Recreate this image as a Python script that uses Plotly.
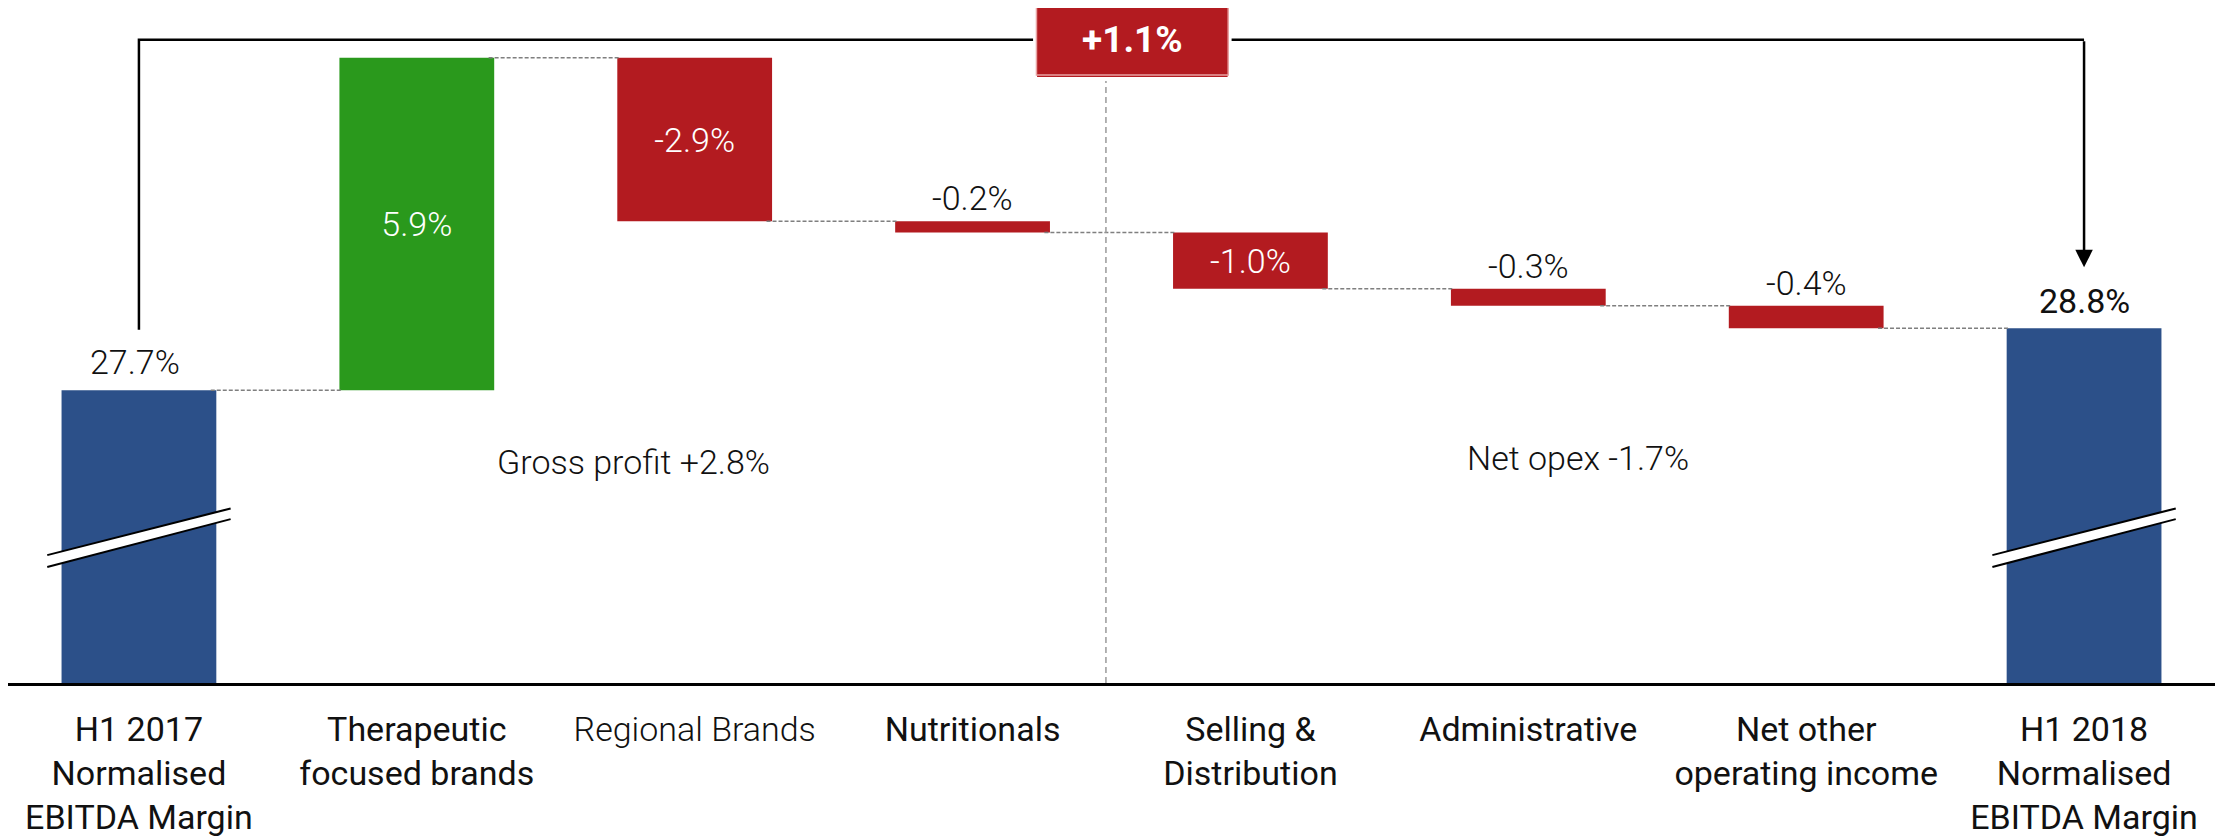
import numpy as np
import plotly.graph_objects as go

# ---- data ----
categories = [
    "H1 2017<br>Normalised<br>EBITDA Margin",
    "Therapeutic<br>focused brands",
    "<span style=\"font-weight:300\">Regional Brands</span>",
    "Nutritionals",
    "Selling &<br>Distribution",
    "Administrative",
    "Net other<br>operating income",
    "H1 2018<br>Normalised<br>EBITDA Margin",
]
start_margin = 27.7
end_margin = 28.8
changes = [5.9, -2.9, -0.2, -1.0, -0.3, -0.4]
change_labels = ["5.9%", "-2.9%", "-0.2%", "-1.0%", "-0.3%", "-0.4%"]
total_labels = ["27.7%", "28.8%"]
total_change_label = "+1.1%"
group_labels = ["Gross profit +2.8%", "Net opex -1.7%"]

BLUE = "#2C5089"
GREEN = "#2A991C"
RED = "#B31B20"
FONT = "Roboto, Arial, sans-serif"
# the page body adds an 8px offset, so the figure is 8px smaller and the
# ranges start a little further in
Y_MIN, Y_MAX = 22.5, 34.485
X_MIN, X_MAX = -0.4712, 7.5
BAR_W = 0.557

# running levels
levels = start_margin + np.concatenate([[0], np.cumsum(changes)])
step_base = levels[:-1]
n = len(categories)
xs = list(range(n))

fig = go.Figure()

# connectors between bars
cx, cy = [], []
for i, lv in enumerate(levels):
    cx += [i + BAR_W / 2 - 0.02, i + 1 - BAR_W / 2 + 0.01, None]
    cy += [lv, lv, None]
fig.add_trace(go.Scatter(x=cx, y=cy, mode="lines", hoverinfo="skip",
                         line=dict(color="#7F7F7F", width=1.5, dash="4px,2px")))

# totals
fig.add_trace(go.Bar(x=[0, n - 1], y=[start_margin, end_margin], base=[0, 0],
                     width=BAR_W, marker=dict(color=BLUE, line=dict(width=0))))

# step bars
inside = [t if abs(c) >= 0.5 else "" for c, t in zip(changes, change_labels)]
fig.add_trace(go.Bar(
    x=xs[1:-1], y=changes, base=step_base, width=BAR_W,
    marker=dict(color=[GREEN if c > 0 else RED for c in changes], line=dict(width=0)),
    text=inside, textposition="inside", insidetextanchor="middle",
    constraintext="none",
    textfont=dict(family=FONT, size=34, color="white", weight=300),
))

# labels above small steps and totals
for i, (c, t) in enumerate(zip(changes, change_labels), start=1):
    if abs(c) < 0.5:
        fig.add_annotation(x=i, y=max(step_base[i - 1], step_base[i - 1] + c),
                           text=t, showarrow=False, yanchor="bottom", yshift=1,
                           font=dict(family=FONT, size=34, color="#111", weight=300))
fig.add_annotation(x=0, y=start_margin, text=total_labels[0], showarrow=False,
                   yanchor="bottom", yshift=6, xshift=-4,
                   font=dict(family=FONT, size=34, color="#111", weight=300))
fig.add_annotation(x=n - 1, y=end_margin, text=total_labels[1], showarrow=False,
                   yanchor="bottom", yshift=5,
                   font=dict(family=FONT, size=34, color="#111", weight=400))

# group captions
fig.add_annotation(x=1.78, y=26.42, text=group_labels[0], showarrow=False,
                   font=dict(family=FONT, size=34, color="#111", weight=300))
fig.add_annotation(x=5.18, y=26.49, text=group_labels[1], showarrow=False,
                   font=dict(family=FONT, size=34, color="#111", weight=300))

# axis-break markers on total bars
for xc in [0, n - 1]:
    x0, x1 = xc - 0.33, xc + 0.33
    fig.add_shape(type="path", layer="above", line=dict(width=0), fillcolor="white",
                  path=f"M {x0},24.56 L {x0},24.77 L {x1},25.60 L {x1},25.41 Z")
    for ya, yb in [(24.77, 25.60), (24.56, 25.41)]:
        fig.add_shape(type="line", layer="above", x0=x0, y0=ya, x1=x1, y1=yb,
                      line=dict(color="black", width=2))

# dashed divider between gross profit and opex
fig.add_shape(type="line", layer="above", x0=3.48, x1=3.48, y0=Y_MIN, y1=33.2,
              line=dict(color="#9A9A9A", width=1.5, dash="6px,4px"))

# bracket with arrow down to the end total
fig.add_shape(type="path", layer="above", line=dict(color="black", width=2.5),
              path=f"M 0,28.77 L 0,33.92 L {n - 1},33.92")
fig.add_annotation(x=n - 1, y=29.88, ax=n - 1, ay=33.92, axref="x", ayref="y",
                   text="", showarrow=True, arrowhead=2, arrowsize=1.4,
                   arrowwidth=2.5, arrowcolor="black", standoff=0)

# overall change box (white gap around it breaks the bracket line)
fig.add_shape(type="rect", layer="above", x0=3.225, x1=3.925, xref="x",
              y0=0.895, y1=1.012, yref="paper",
              fillcolor=RED, line=dict(color="white", width=4))
fig.add_shape(type="rect", layer="above", x0=3.23, x1=3.92, xref="x",
              y0=0.9007, y1=1.006, yref="paper",
              fillcolor=RED, line=dict(color="#E9A3A3", width=1.5))
fig.add_annotation(x=3.575, y=33.925, text=f"<b>{total_change_label}</b>",
                   showarrow=False, font=dict(family=FONT, size=37, color="white"))

fig.update_layout(
    width=2215, height=828,
    margin=dict(l=0, r=0, t=0, b=153),
    paper_bgcolor="white", plot_bgcolor="white",
    showlegend=False, barmode="overlay",
    xaxis=dict(range=[X_MIN, X_MAX], tickvals=xs, ticktext=categories,
               showgrid=False, zeroline=False, showline=True, linecolor="black",
               linewidth=3, ticks="", ticklabelstandoff=14, automargin=False,
               tickfont=dict(family=FONT, size=34, color="#111")),
    yaxis=dict(range=[Y_MIN, Y_MAX], visible=False, showgrid=False, fixedrange=True),
)

fig.write_html("out.html")
